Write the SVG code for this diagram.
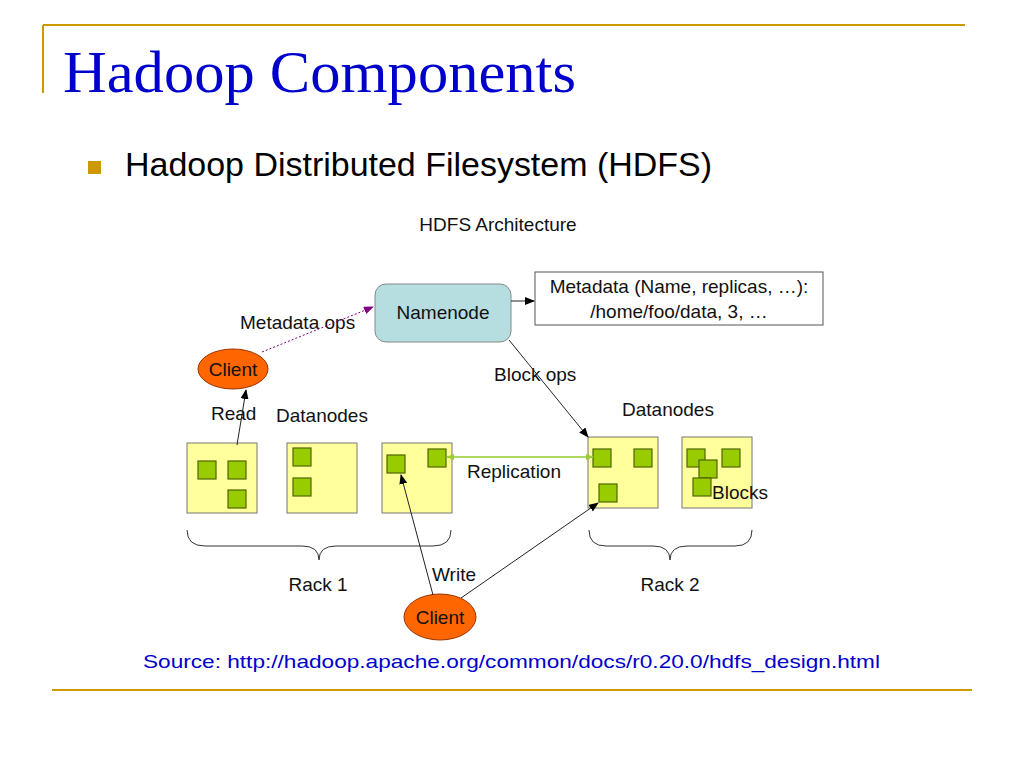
<svg xmlns="http://www.w3.org/2000/svg" width="1024" height="768" viewBox="0 0 1024 768">
<defs>
<marker id="ah" markerWidth="10" markerHeight="8" refX="9" refY="4" orient="auto" markerUnits="userSpaceOnUse"><path d="M0,0 L10,4 L0,8 z" fill="#000"/></marker>
<marker id="ahp" markerWidth="10" markerHeight="8" refX="9" refY="4" orient="auto" markerUnits="userSpaceOnUse"><path d="M0,0 L10,4 L0,8 z" fill="#800080"/></marker>
<marker id="ahg" markerWidth="8" markerHeight="6" refX="7" refY="3" orient="auto-start-reverse" markerUnits="userSpaceOnUse"><path d="M0,0 L8,3 L0,6 z" fill="#99CC33"/></marker>
<style>
.t{font-family:"Liberation Sans",Arial,sans-serif;font-size:19px;fill:#111}
.dn{fill:#FFFF9C;stroke:#777;stroke-width:1}
.blk{fill:#99CC00;stroke:#4D6600;stroke-width:1.2}
.cl{fill:#FF6600;stroke:#993300;stroke-width:1}
.ln{stroke:#222;stroke-width:1;fill:none}
.brace{stroke:#333;stroke-width:1;fill:none}
.gold{stroke:#CC9900;stroke-width:2}
</style>
</defs>
<rect width="1024" height="768" fill="#fff"/>
<line class="gold" x1="43" y1="25" x2="965" y2="25"/>
<line class="gold" x1="43" y1="25" x2="43" y2="93"/>
<line class="gold" x1="52" y1="690" x2="972" y2="690"/>
<text x="63" y="92" font-family="'Liberation Serif','Times New Roman',serif" font-size="60" fill="#0000CC" textLength="513" lengthAdjust="spacingAndGlyphs">Hadoop Components</text>
<rect x="88" y="161" width="13" height="13" fill="#CC9900"/>
<text x="125" y="176" font-family="'Liberation Sans',Arial,sans-serif" font-size="34" fill="#000" textLength="587" lengthAdjust="spacingAndGlyphs">Hadoop Distributed Filesystem (HDFS)</text>
<text class="t" x="498" y="231" text-anchor="middle" font-size="18">HDFS Architecture</text>

<g id="namenode">
<rect x="375" y="284" width="136" height="58" rx="11" fill="#B6DDE0" stroke="#888" stroke-width="1"/>
<text class="t" x="443" y="319" text-anchor="middle">Namenode</text>
</g>
<g id="metadata">
<rect x="535" y="272" width="288" height="53" fill="#fff" stroke="#555" stroke-width="1"/>
<text class="t" x="679" y="293" text-anchor="middle">Metadata (Name, replicas, …):</text>
<text class="t" x="679" y="318" text-anchor="middle">/home/foo/data, 3, …</text>
</g>
<text class="t" x="240" y="329">Metadata ops</text>

<g id="client1">
<ellipse class="cl" cx="233" cy="369" rx="35" ry="20"/>
<text class="t" x="233" y="376" text-anchor="middle" fill="#331100">Client</text>
</g>
<text class="t" x="211" y="420">Read</text>
<text class="t" x="276" y="422">Datanodes</text>
<text class="t" x="494" y="381">Block ops</text>
<text class="t" x="622" y="416">Datanodes</text>
<text class="t" x="467" y="478">Replication</text>

<g id="datanode1">
<rect class="dn" x="187" y="443" width="70" height="70"/>
<rect class="blk" x="198" y="461" width="18" height="18"/>
<rect class="blk" x="228" y="461" width="18" height="18"/>
<rect class="blk" x="228" y="490" width="18" height="18"/>
</g>
<g id="datanode2">
<rect class="dn" x="287" y="443" width="70" height="70"/>
<rect class="blk" x="293" y="448" width="18" height="18"/>
<rect class="blk" x="293" y="478" width="18" height="18"/>
</g>
<g id="datanode3">
<rect class="dn" x="382" y="443" width="70" height="70"/>
<rect class="blk" x="387" y="455" width="18" height="18"/>
<rect class="blk" x="428" y="449" width="18" height="18"/>
</g>
<g id="datanode4">
<rect class="dn" x="588" y="437" width="70" height="71"/>
<rect class="blk" x="593" y="449" width="18" height="18"/>
<rect class="blk" x="634" y="449" width="18" height="18"/>
<rect class="blk" x="599" y="484" width="18" height="18"/>
</g>
<g id="datanode5">
<rect class="dn" x="682" y="437" width="70" height="71"/>
<rect class="blk" x="687" y="449" width="18" height="18"/>
<rect class="blk" x="722" y="449" width="18" height="18"/>
<rect class="blk" x="699" y="460" width="18" height="18"/>
<rect class="blk" x="693" y="478" width="18" height="18"/>
<text class="t" x="712" y="499">Blocks</text>
</g>

<g id="rack1">
<path class="brace" d="M187,530 Q187,546 205,546 L302,546 Q319,546 319,560 Q319,546 336,546 L433,546 Q451,546 451,530"/>
<text class="t" x="318" y="591" text-anchor="middle">Rack 1</text>
</g>
<g id="rack2">
<path class="brace" d="M589,530 Q589,546 606,546 L653,546 Q670,546 670,560 Q670,546 687,546 L735,546 Q752,546 752,530"/>
<text class="t" x="670" y="591" text-anchor="middle">Rack 2</text>
</g>

<text class="t" x="432" y="581">Write</text>
<g id="client2">
<ellipse class="cl" cx="440" cy="617" rx="36" ry="23"/>
<text class="t" x="440" y="624" text-anchor="middle" fill="#331100">Client</text>
</g>

<g id="connectors">
<line class="ln" x1="511" y1="301" x2="534" y2="301" marker-end="url(#ah)"/>
<line x1="262" y1="352" x2="373" y2="307" stroke="#800080" stroke-width="1" stroke-dasharray="2,2" marker-end="url(#ahp)"/>
<line class="ln" x1="237" y1="445" x2="246" y2="390" marker-end="url(#ah)"/>
<line class="ln" x1="509" y1="340" x2="588" y2="437" marker-end="url(#ah)"/>
<line x1="447" y1="457" x2="593" y2="457" stroke="#99CC33" stroke-width="1.5" marker-start="url(#ahg)" marker-end="url(#ahg)"/>
<line class="ln" x1="433" y1="595" x2="401" y2="475" marker-end="url(#ah)"/>
<line class="ln" x1="461" y1="598" x2="598" y2="503" marker-end="url(#ah)"/>
</g>

<text x="143" y="668" font-family="'Liberation Sans',Arial,sans-serif" font-size="19" fill="#0000CC" textLength="737" lengthAdjust="spacingAndGlyphs">Source: http://hadoop.apache.org/common/docs/r0.20.0/hdfs_design.html</text>
</svg>
